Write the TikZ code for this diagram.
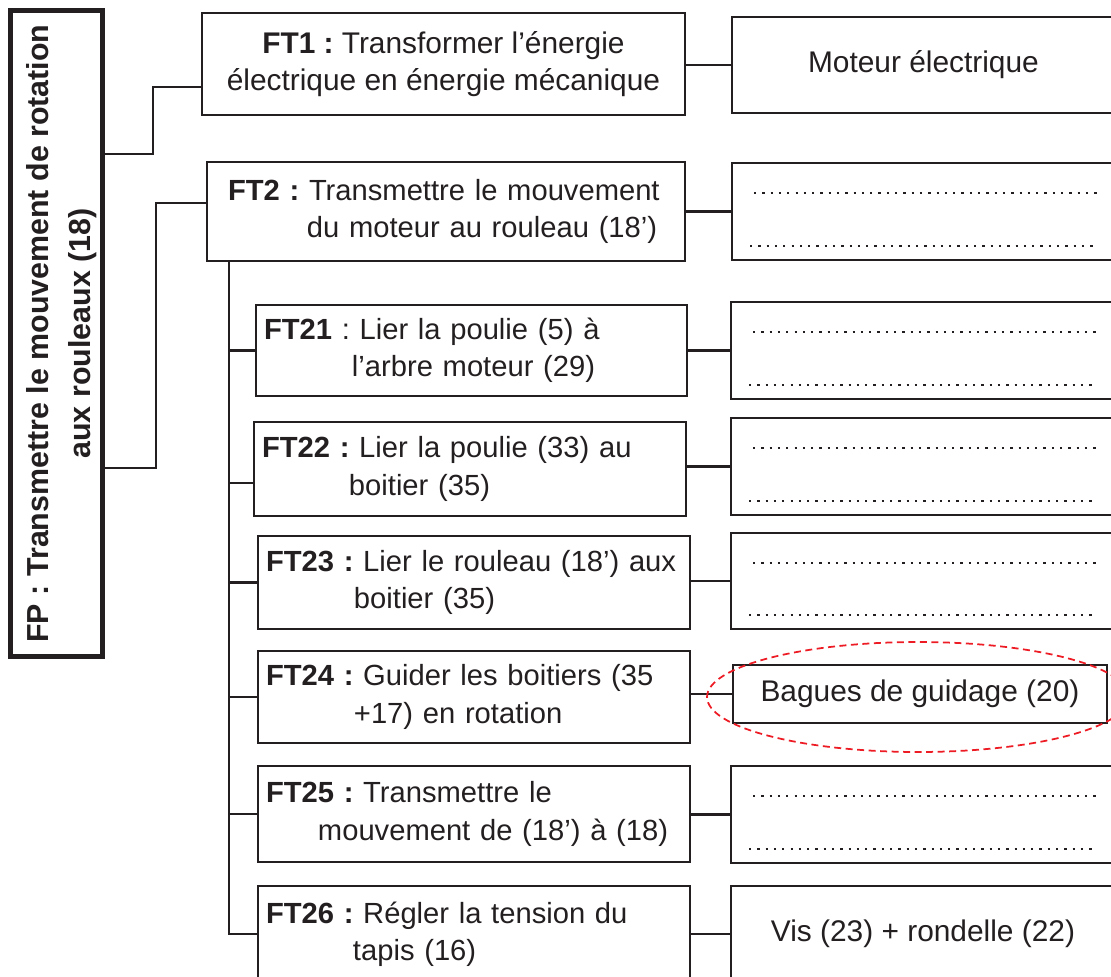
\documentclass[tikz,border=0pt]{standalone}
\usepackage{fontspec}
\setmainfont{Liberation Sans}
\usepackage{xcolor}
\usetikzlibrary{calc}

\definecolor{ink}{HTML}{231F20}
\definecolor{markred}{HTML}{ED1C24}

% deux lignes, la seconde en retrait
\newcommand\ftlines[3]{\mbox{#1}\\\hspace*{#2}\mbox{#3}}

\tikzset{
  box/.style={draw=ink, line width=0.055cm, anchor=north west, inner sep=0pt,
    outer sep=0pt, text=ink, font=\fontsize{17}{21.3}\selectfont},
  ftbox/.style={box, align=left, inner xsep=0.16cm, font=\fontsize{16.6}{21.3}\selectfont},
  ansbox/.style={box, align=center},
  fpbox/.style={draw=ink, line width=0.1cm, rotate=90, inner sep=0pt, outer sep=0pt,
    minimum width=12.92cm, minimum height=1.84cm, align=center, text=ink,
    font=\fontsize{17.3}{24}\selectfont\bfseries},
  link/.style={draw=ink, line width=0.045cm},
  dots/.style={ink, line width=0.045cm, dash pattern=on 0.045cm off 0.121cm},
  ring/.style={markred, line width=0.035cm, dash pattern=on 0.14cm off 0.09cm}
}

\begin{document}
\frenchspacing
\begin{tikzpicture}[x=0.02cm, y=-0.02cm]
  \useasboundingbox (0,0) rectangle (1111,976);
  \clip (0,0) rectangle (1111,976);

  % fonction principale
  \node[fpbox] (fp) at (56.5,333.5)
    {\rule{0pt}{0.64cm}FP : Transmettre le mouvement de rotation\\aux rouleaux (18)};

  % fonctions techniques
  \node[ansbox, minimum width=9.66cm, minimum height=2.04cm] (ft1) at (202,13)
    {\textbf{FT1 :} Transformer l’énergie\\électrique en énergie mécanique};
  \node[ftbox, inner xsep=0.42cm, text width=8.72cm, minimum width=9.56cm, minimum height=1.98cm] (ft2) at (207,162)
    {\ftlines{\textbf{FT2 :} Transmettre le mouvement}{1.58cm}{du moteur au rouleau (18’)}};
  \node[ftbox, text width=8.30cm, minimum width=8.62cm, minimum height=1.82cm] (ft21) at (256,305)
    {\ftlines{\textbf{FT21} : Lier la poulie (5) à}{1.76cm}{l’arbre moteur (29)}};
  \node[ftbox, text width=8.32cm, minimum width=8.64cm, minimum height=1.88cm] (ft22) at (254,422)
    {\ftlines{\textbf{FT22 :} Lier la poulie (33) au}{1.74cm}{boitier (35)}};
  \node[ftbox, text width=8.32cm, minimum width=8.64cm, minimum height=1.86cm] (ft23) at (258,536)
    {\ftlines{\textbf{FT23 :} Lier le rouleau (18’) aux}{1.76cm}{boitier (35)}};
  \node[ftbox, text width=8.32cm, minimum width=8.64cm, minimum height=1.84cm] (ft24) at (258,651)
    {\ftlines{\textbf{FT24 :} Guider les boitiers (35}{1.76cm}{+17) en rotation}};
  \node[ftbox, text width=8.32cm, minimum width=8.64cm, minimum height=1.92cm] (ft25) at (258,766)
    {\ftlines{\textbf{FT25 :} Transmettre le}{1.04cm}{mouvement de (18’) à (18)}};
  \node[ftbox, text width=8.32cm, minimum width=8.64cm, minimum height=1.92cm] (ft26) at (258,886)
    {\ftlines{\textbf{FT26 :} Régler la tension du}{1.74cm}{tapis (16)}};

  % solutions
  \node[ansbox, minimum width=7.66cm, minimum height=1.92cm] (mot) at (732,17) {Moteur électrique};
  \node[ansbox, minimum width=7.66cm, minimum height=1.94cm] (ans2) at (732,163) {};
  \node[ansbox, minimum width=7.68cm, minimum height=1.94cm] (ans21) at (731,302) {};
  \node[ansbox, minimum width=7.68cm, minimum height=1.94cm] (ans22) at (731,418) {};
  \node[ansbox, minimum width=7.68cm, minimum height=1.92cm] (ans23) at (731,533) {};
  \node[ansbox, minimum width=7.48cm, minimum height=1.16cm] (bag) at (733,665) {Bagues de guidage (20)};
  \node[ansbox, minimum width=7.68cm, minimum height=1.94cm] (ans25) at (731,766) {};
  \node[ansbox, minimum width=7.68cm, minimum height=1.92cm] (ans26) at (731,886) {Vis (23) + rondelle (22)};

  % lignes a completer
  \foreach \b in {ans2,ans21,ans22,ans23,ans25} {
    \draw[dots] ($(\b.north west)+(22,30)$) -- ++(348,0);
    \draw[dots] ($(\b.south west)+(18,-14)$) -- ++(348,0);
  }

  % liaisons
  \draw[link] (fp.south |- 0,154) -| (153,87) -- (ft1.west |- 0,87);
  \draw[link] (fp.south |- 0,468) -| (156,203) -- (ft2.west |- 0,203);
  \coordinate (tk) at (229,0);
  \draw[link] (ft2.south -| tk) |- (ft26.west);
  \foreach \n in {21,23,24,25}
    \draw[link] (tk |- ft\n.west) -- (ft\n.west);
  \draw[link] (tk |- 0,483) -- (ft22.west |- 0,483);
  \foreach \a/\b in {ft1/mot,ft2/ans2,ft21/ans21,ft22/ans22,ft23/ans23,ft24/bag,ft25/ans25,ft26/ans26}
    \draw[link] (\a.east |- \b.west) -- (\b.west);

  % reponse entouree
  \draw[ring] (918,697) ellipse [x radius=4.22cm, y radius=1.1cm];
\end{tikzpicture}
\end{document}
